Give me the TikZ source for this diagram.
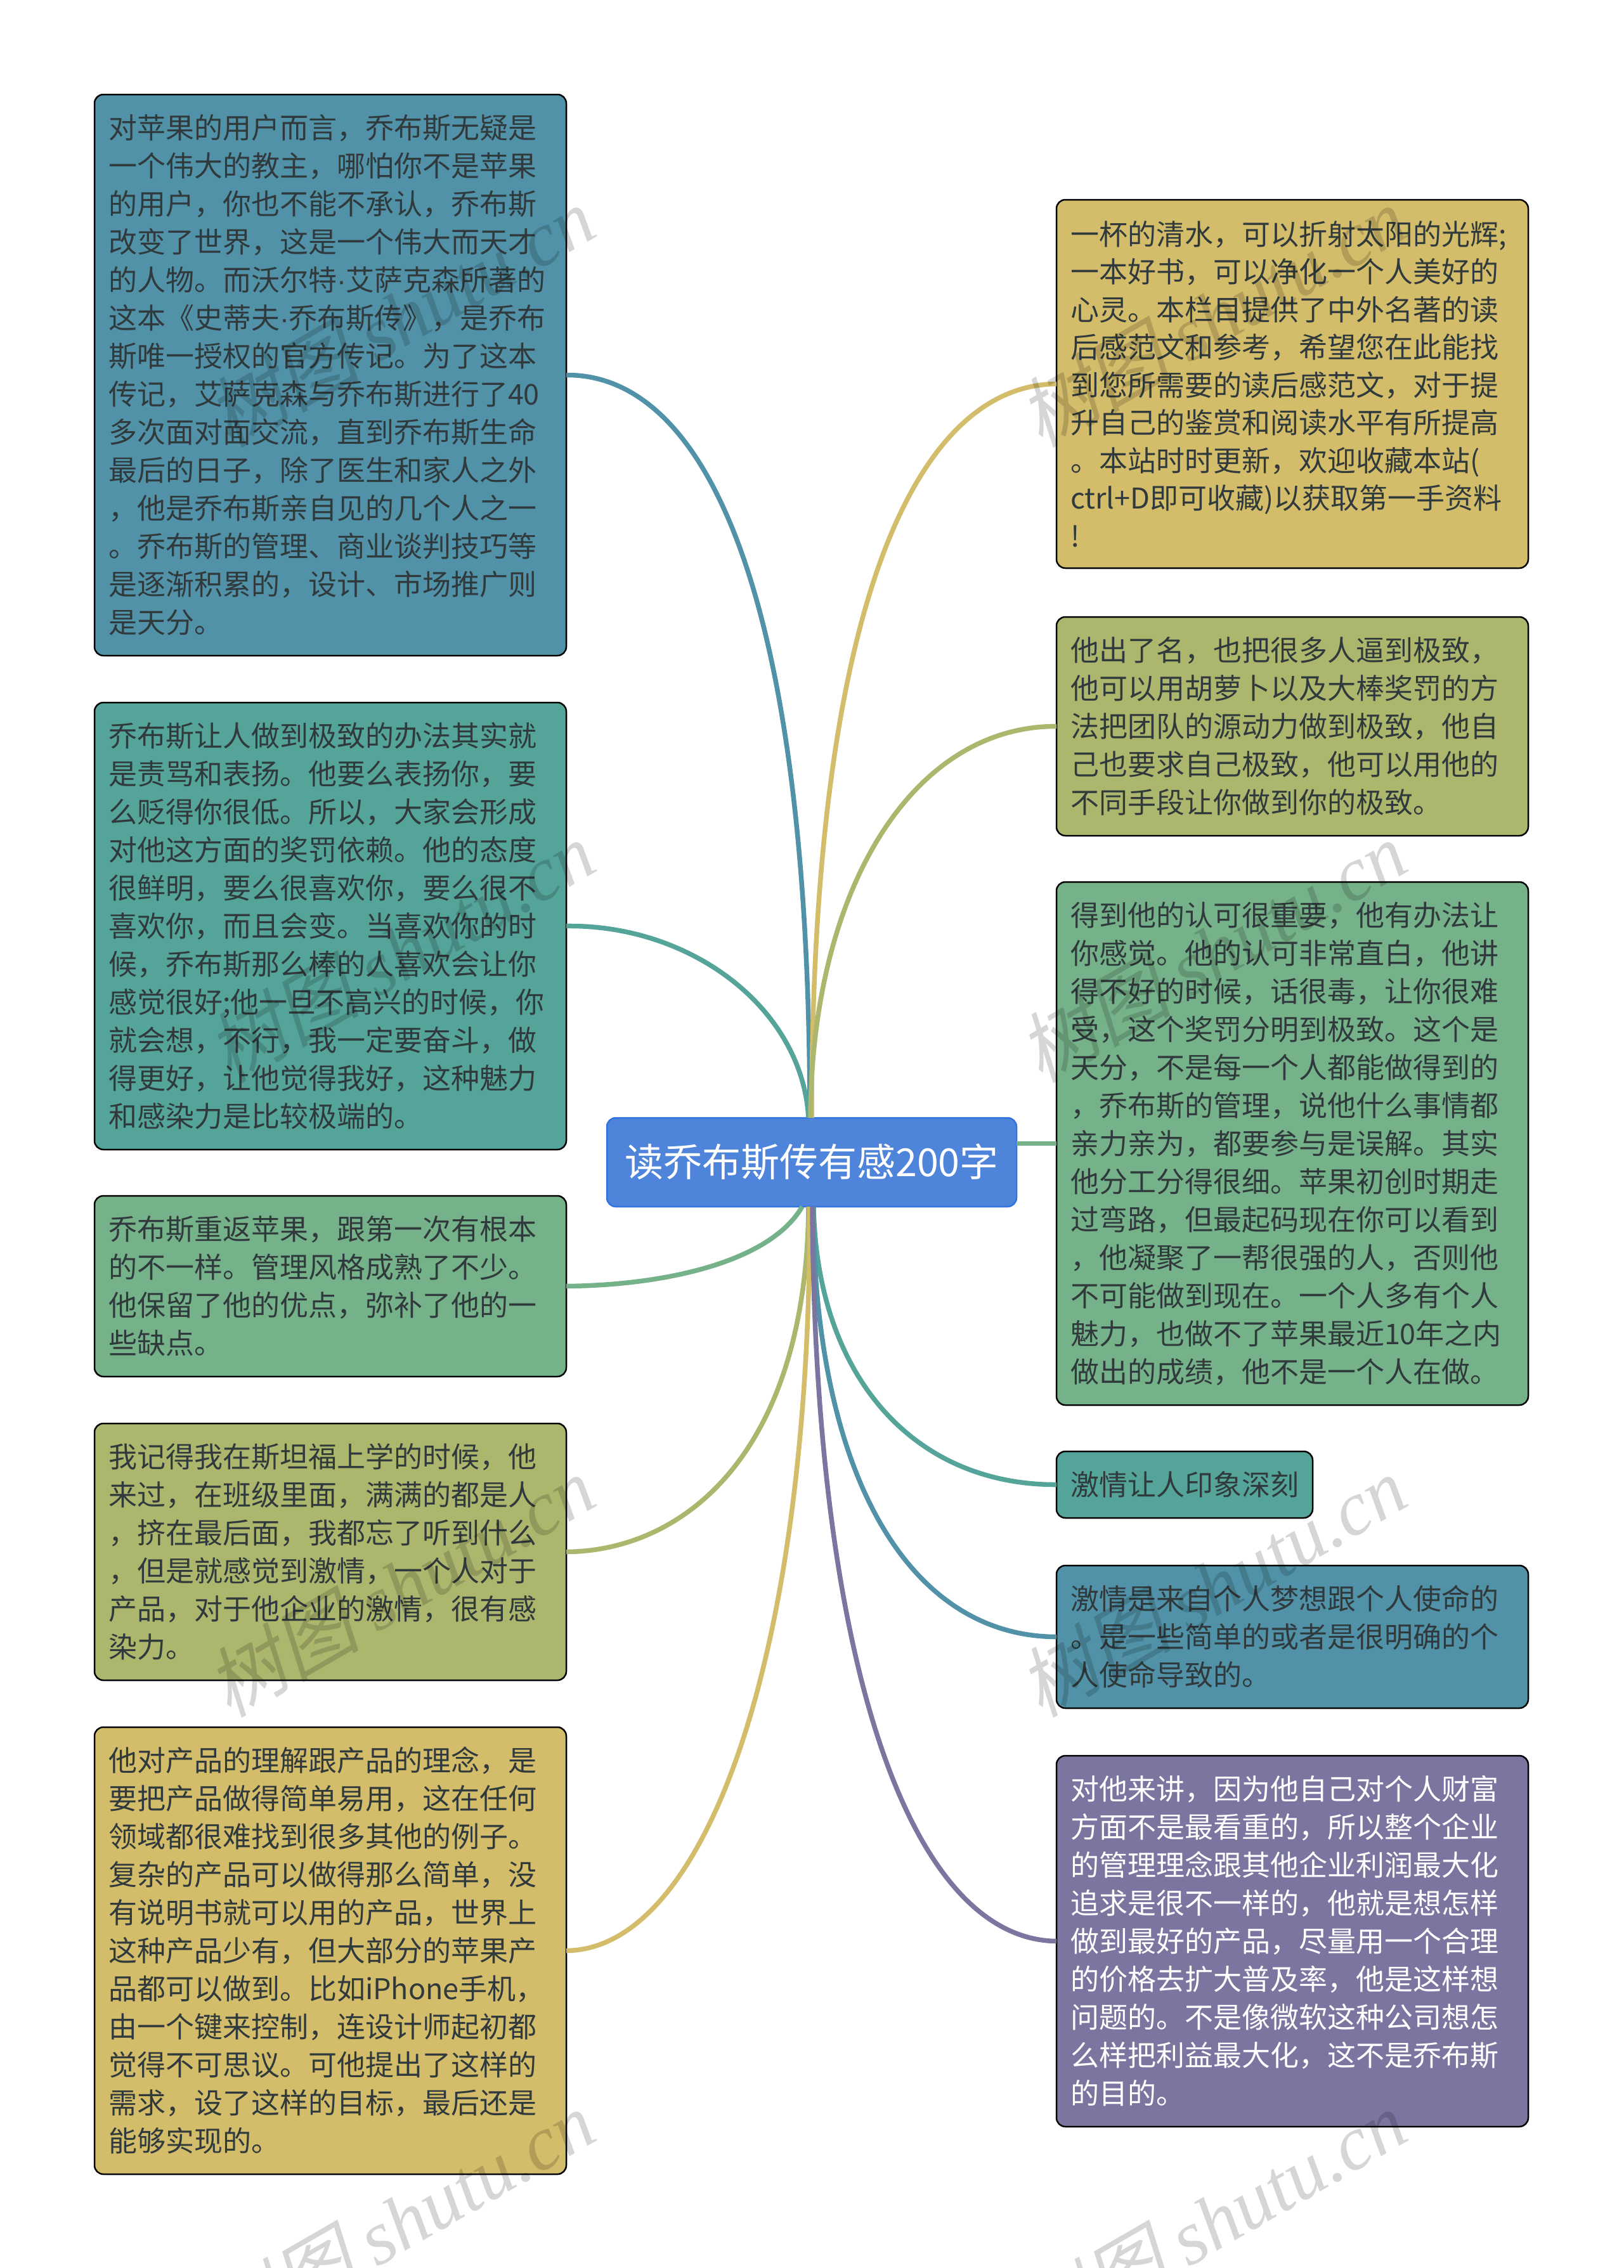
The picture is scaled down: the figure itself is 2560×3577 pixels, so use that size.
\documentclass[tikz,border=0pt]{standalone}
\usepackage{fontspec}
\setmainfont{Noto Sans CJK SC}
\newfontfamily\cardfont{Noto Sans CJK SC}
\newfontfamily\dotfont{Liberation Sans}
\newfontfamily\markcjk[FakeSlant=0.22]{Noto Sans CJK SC}
\newfontfamily\marklatin{Liberation Serif}[ItalicFont=* Italic]
\newcommand{\jobsdot}{{\dotfont ·}}
\definecolor{rootfill}{HTML}{4F84DB}
\definecolor{rootedge}{HTML}{2F74E0}
\definecolor{cardblue}{HTML}{5192A8}
\definecolor{cardteal}{HTML}{55A499}
\definecolor{cardgreen}{HTML}{76B289}
\definecolor{cardolive}{HTML}{ADB66D}
\definecolor{cardsand}{HTML}{D3BC6A}
\definecolor{cardpurple}{HTML}{7A76A0}
\definecolor{inkdark}{HTML}{303A3C}
\tikzset{
  card/.style={draw=black, line width=2.5pt, rounded corners=14pt, anchor=north west,
    align=left, inner xsep=22pt, inner ysep=0pt, outer sep=0pt, text=inkdark,
    font=\fontsize{45}{60}\selectfont\cardfont},
  sidecard/.style={card, text width=700pt},
  rootcard/.style={draw=rootedge, line width=2.5pt, rounded corners=14pt, fill=rootfill,
    text=white, minimum width=646pt, minimum height=140pt, inner sep=0pt, outer sep=0pt,
    font=\fontsize{61}{70}\selectfont\cardfont},
  link/.style={line width=7.5pt}
}

\begin{document}
\begin{tikzpicture}[x=1pt,y=-1pt]
  \useasboundingbox (0,0) rectangle (2560,3577);

  \node[rootcard] (root) at (1280,1833) {读乔布斯传有感200字};

  % Left column
  \node[sidecard, fill=cardblue, minimum height=885pt] (leftA) at (149,149) {对苹果的用户而言，乔布斯无疑是\\一个伟大的教主，哪怕你不是苹果\\的用户，你也不能不承认，乔布斯\\改变了世界，这是一个伟大而天才\\的人物。而沃尔特\jobsdot{}艾萨克森所著的\\这本《史蒂夫\jobsdot{}乔布斯传》，是乔布\\斯唯一授权的官方传记。为了这本\\传记，艾萨克森与乔布斯进行了40\\多次面对面交流，直到乔布斯生命\\最后的日子，除了医生和家人之外\\，他是乔布斯亲自见的几个人之一\\。乔布斯的管理、商业谈判技巧等\\是逐渐积累的，设计、市场推广则\\是天分。};
  \node[sidecard, fill=cardteal, minimum height=705pt] (leftB) at (149,1108) {乔布斯让人做到极致的办法其实就\\是责骂和表扬。他要么表扬你，要\\么贬得你很低。所以，大家会形成\\对他这方面的奖罚依赖。他的态度\\很鲜明，要么很喜欢你，要么很不\\喜欢你，而且会变。当喜欢你的时\\候，乔布斯那么棒的人喜欢会让你\\感觉很好;他一旦不高兴的时候，你\\就会想，不行，我一定要奋斗，做\\得更好，让他觉得我好，这种魅力\\和感染力是比较极端的。};
  \node[sidecard, fill=cardgreen, minimum height=285pt] (leftC) at (149,1886) {乔布斯重返苹果，跟第一次有根本\\的不一样。管理风格成熟了不少。\\他保留了他的优点，弥补了他的一\\些缺点。};
  \node[sidecard, fill=cardolive, minimum height=405pt] (leftD) at (149,2245) {我记得我在斯坦福上学的时候，他\\来过，在班级里面，满满的都是人\\，挤在最后面，我都忘了听到什么\\，但是就感觉到激情，一个人对于\\产品，对于他企业的激情，很有感\\染力。};
  \node[sidecard, fill=cardsand, minimum height=705pt] (leftE) at (149,2724) {他对产品的理解跟产品的理念，是\\要把产品做得简单易用，这在任何\\领域都很难找到很多其他的例子。\\复杂的产品可以做得那么简单，没\\有说明书就可以用的产品，世界上\\这种产品少有，但大部分的苹果产\\品都可以做到。比如iPhone手机，\\由一个键来控制，连设计师起初都\\觉得不可思议。可他提出了这样的\\需求，设了这样的目标，最后还是\\能够实现的。};

  % Right column
  \node[sidecard, fill=cardsand, minimum height=581pt, font=\fontsize{45}{59.5}\selectfont\cardfont] (rightA) at (1666,315) {一杯的清水，可以折射太阳的光辉;\\一本好书，可以净化一个人美好的\\心灵。本栏目提供了中外名著的读\\后感范文和参考，希望您在此能找\\到您所需要的读后感范文，对于提\\升自己的鉴赏和阅读水平有所提高\\。本站时时更新，欢迎收藏本站(\\ctrl+D即可收藏)以获取第一手资料\\!};
  \node[sidecard, fill=cardolive, minimum height=345pt] (rightB) at (1666,973) {他出了名，也把很多人逼到极致，\\他可以用胡萝卜以及大棒奖罚的方\\法把团队的源动力做到极致，他自\\己也要求自己极致，他可以用他的\\不同手段让你做到你的极致。};
  \node[sidecard, fill=cardgreen, minimum height=825pt] (rightC) at (1666,1391) {得到他的认可很重要，他有办法让\\你感觉。他的认可非常直白，他讲\\得不好的时候，话很毒，让你很难\\受，这个奖罚分明到极致。这个是\\天分，不是每一个人都能做得到的\\，乔布斯的管理，说他什么事情都\\亲力亲为，都要参与是误解。其实\\他分工分得很细。苹果初创时期走\\过弯路，但最起码现在你可以看到\\，他凝聚了一帮很强的人，否则他\\不可能做到现在。一个人多有个人\\魅力，也做不了苹果最近10年之内\\做出的成绩，他不是一个人在做。};
  \node[card, fill=cardteal, text width=360pt, minimum height=105pt] (rightD) at (1666,2289) {激情让人印象深刻};
  \node[sidecard, fill=cardblue, minimum height=225pt] (rightE) at (1666,2469) {激情是来自个人梦想跟个人使命的\\。是一些简单的或者是很明确的个\\人使命导致的。};
  \node[sidecard, fill=cardpurple, text=white, minimum height=585pt] (rightF) at (1666,2769) {对他来讲，因为他自己对个人财富\\方面不是最看重的，所以整个企业\\的管理理念跟其他企业利润最大化\\追求是很不一样的，他就是想怎样\\做到最好的产品，尽量用一个合理\\的价格去扩大普及率，他是这样想\\问题的。不是像微软这种公司想怎\\么样把利益最大化，这不是乔布斯\\的目的。};

  % Curves from the root
  \draw[link, cardblue] ([xshift=-3pt]root.north) .. controls (1277,900) and (1100,590) .. (leftA.east);
  \draw[link, cardteal] ([xshift=-5pt]root.north) .. controls (1265,1590) and (1090,1458) .. (leftB.east);
  \draw[link, cardsand] (root.north) .. controls (1280,917) and (1458,607) .. (rightA.west);
  \draw[link, cardolive] ([xshift=-2pt]root.north) .. controls (1280,1400) and (1440,1145) .. (rightB.west);
  \draw[link, cardgreen] ([xshift=-15pt]root.south) .. controls (1215,1990) and (1050,2027) .. (leftC.east);
  \draw[link, cardolive] ([xshift=-5pt]root.south) .. controls (1272,2290) and (1080,2446) .. (leftD.east);
  \draw[link, cardsand] ([xshift=-3pt]root.south) .. controls (1278,2620) and (1110,3075) .. (leftE.east);
  \draw[link, cardgreen] (root.east |- rightC.west) -- (rightC.west);
  \draw[link, cardteal] ([xshift=3pt]root.south) .. controls (1288,2170) and (1440,2342) .. (rightD.west);
  \draw[link, cardblue] ([xshift=2pt]root.south) .. controls (1285,2340) and (1440,2581) .. (rightE.west);
  \draw[link, cardpurple] ([xshift=1pt]root.south) .. controls (1285,2640) and (1440,3059) .. (rightF.west);

  % Watermark
  \foreach \wx/\wname in {947/a,2227/b}
    \foreach \wy/\wrow in {370/1,1371/2,2372/3,3373/4}
      \node[rotate=30, anchor=base east, inner sep=0pt, text=black, text opacity=0.16,
        font=\fontsize{121}{121}\selectfont] (mark\wname\wrow) at (\wx,\wy)
        {\markcjk 树图 \marklatin\itshape shutu.cn};
\end{tikzpicture}
\end{document}
